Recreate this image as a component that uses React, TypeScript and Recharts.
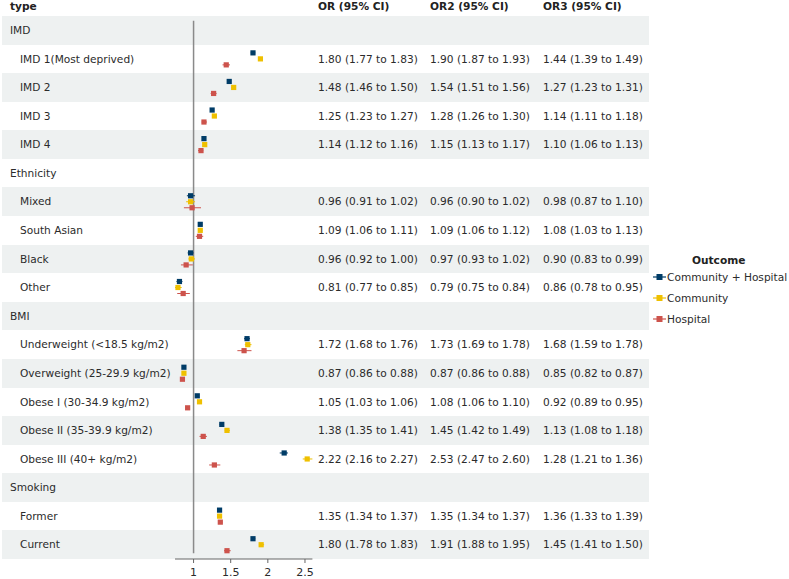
import React from 'react';
import { ErrorBar, ReferenceLine, Scatter, ScatterChart, XAxis, YAxis } from 'recharts';

const labels = [
  'IMD',
  'IMD 1(Most deprived)',
  'IMD 2',
  'IMD 3',
  'IMD 4',
  'Ethnicity',
  'Mixed',
  'South Asian',
  'Black',
  'Other',
  'BMI',
  'Underweight (<18.5 kg/m2)',
  'Overweight (25-29.9 kg/m2)',
  'Obese I (30-34.9 kg/m2)',
  'Obese II (35-39.9 kg/m2)',
  'Obese III (40+ kg/m2)',
  'Smoking',
  'Former',
  'Current',
];

// OR = Community + Hospital, OR2 = Community, OR3 = Hospital (null = group header row)
const or1 = [null, 1.8, 1.48, 1.25, 1.14, null, 0.96, 1.09, 0.96, 0.81, null, 1.72, 0.87, 1.05, 1.38, 2.22, null, 1.35, 1.8];
const or1Lo = [null, 1.77, 1.46, 1.23, 1.12, null, 0.91, 1.06, 0.92, 0.77, null, 1.68, 0.86, 1.03, 1.35, 2.16, null, 1.34, 1.78];
const or1Hi = [null, 1.83, 1.5, 1.27, 1.16, null, 1.02, 1.11, 1.0, 0.85, null, 1.76, 0.88, 1.06, 1.41, 2.27, null, 1.37, 1.83];

const or2 = [null, 1.9, 1.54, 1.28, 1.15, null, 0.96, 1.09, 0.97, 0.79, null, 1.73, 0.87, 1.08, 1.45, 2.53, null, 1.35, 1.91];
const or2Lo = [null, 1.87, 1.51, 1.26, 1.13, null, 0.9, 1.06, 0.93, 0.75, null, 1.69, 0.86, 1.06, 1.42, 2.47, null, 1.34, 1.88];
const or2Hi = [null, 1.93, 1.56, 1.3, 1.17, null, 1.02, 1.12, 1.02, 0.84, null, 1.78, 0.88, 1.1, 1.49, 2.6, null, 1.37, 1.95];

const or3 = [null, 1.44, 1.27, 1.14, 1.1, null, 0.98, 1.08, 0.9, 0.86, null, 1.68, 0.85, 0.92, 1.13, 1.28, null, 1.36, 1.45];
const or3Lo = [null, 1.39, 1.23, 1.11, 1.06, null, 0.87, 1.03, 0.83, 0.78, null, 1.59, 0.82, 0.89, 1.08, 1.21, null, 1.33, 1.41];
const or3Hi = [null, 1.49, 1.31, 1.18, 1.13, null, 1.1, 1.13, 0.99, 0.95, null, 1.78, 0.87, 0.95, 1.18, 1.36, null, 1.39, 1.5];

const columnTitles = ['OR (95% CI)', 'OR2 (95% CI)', 'OR3 (95% CI)'];
const seriesNames = ['Community + Hospital', 'Community', 'Hospital'];
const xTicks = [1, 1.5, 2, 2.5];

const series = [
  { name: seriesNames[0], v: or1, lo: or1Lo, hi: or1Hi, color: '#003C67' },
  { name: seriesNames[1], v: or2, lo: or2Lo, hi: or2Hi, color: '#EFC000' },
  { name: seriesNames[2], v: or3, lo: or3Lo, hi: or3Hi, color: '#CD534C' },
];

const FONT = '"DejaVu Sans", sans-serif';
const W = 789;
const H = 579;
const TOP = 16;
const BOTTOM = 559;
const PLOT_LEFT = 175;
const PLOT_RIGHT = 312.4;
const ROW_H = (BOTTOM - TOP) / labels.length;
const colX = [318, 430, 543];
const bandColor = '#eef1f1';
const textColor = '#2b2b2b';

const fmt = (s, i) => `${s.v[i].toFixed(2)} (${s.lo[i].toFixed(2)} to ${s.hi[i].toFixed(2)})`;

// one scatter data set per outcome, nudged up/down inside the row
const scatterData = series.map((s, k) =>
  s.v
    .map((v, i) =>
      v == null
        ? null
        : { x: v, y: i + 0.5 + ((k - 1) * 6) / ROW_H, err: [v - s.lo[i], s.hi[i] - v] }
    )
    .filter(Boolean)
);

const rowTicks = labels.map((_, i) => i + 0.5);

const RowTick = (props) => {
  const { y, payload } = props;
  const i = Math.floor(payload.value);
  const group = or1[i] == null;
  return (
    <g>
      <text x={group ? 10 : 20} y={y} dy="0.35em" fontSize={10.6} fill={textColor} fontFamily={FONT}>
        {labels[i]}
      </text>
      {!group &&
        series.map((s, k) => (
          <text key={k} x={colX[k]} y={y} dy="0.35em" fontSize={10.6} fill={textColor} fontFamily={FONT}>
            {fmt(s, i)}
          </text>
        ))}
    </g>
  );
};

const square = (color) => (props) => {
  const { cx, cy } = props;
  return <rect x={cx - 2.6} y={cy - 2.6} width={5.2} height={5.2} fill={color} />;
};

const App = () => {
  return (
    <div style={{ position: 'absolute', left: 0, top: 0, width: W, height: H, fontFamily: FONT, background: '#fff' }}>
      {/* row bands */}
      {labels.map((_, i) => (
        <div
          key={i}
          style={{
            position: 'absolute',
            left: 2,
            width: 647,
            top: TOP + i * ROW_H,
            height: ROW_H,
            background: i % 2 === 0 ? bandColor : '#fff',
          }}
        />
      ))}
      {/* header */}
      <div style={{ position: 'absolute', left: 10, top: 0, fontSize: 10.6, fontWeight: 'bold', color: '#222', lineHeight: '13px' }}>
        type
      </div>
      {columnTitles.map((t, k) => (
        <div
          key={t}
          style={{ position: 'absolute', left: colX[k], top: 0, fontSize: 10.6, fontWeight: 'bold', color: '#222', lineHeight: '13px', whiteSpace: 'nowrap' }}
        >
          {t}
        </div>
      ))}

      <div style={{ position: 'absolute', left: 0, top: 0 }}>
        <ScatterChart width={W} height={H} margin={{ top: TOP, right: W - PLOT_RIGHT, bottom: 0, left: 0 }}>
          <XAxis
            type="number"
            dataKey="x"
            domain={[0.75, 2.6]}
            ticks={xTicks}
            allowDataOverflow
            height={H - BOTTOM}
            tickSize={4}
            tickMargin={5}
            stroke="#666"
            tick={{ fontSize: 11, fill: textColor, fontFamily: FONT }}
          />
          <YAxis
            type="number"
            dataKey="y"
            domain={[0, labels.length]}
            reversed
            ticks={rowTicks}
            interval={0}
            width={PLOT_LEFT}
            axisLine={false}
            tickLine={false}
            tick={RowTick}
          />
          <ReferenceLine
            segment={[
              { x: 1, y: 0.17 },
              { x: 1, y: labels.length - 0.2 },
            ]}
            stroke="#8a8a8a"
            strokeWidth={1.5}
          />
          {series.map((s, k) => (
            <Scatter
              key={s.name}
              name={s.name}
              data={scatterData[k]}
              fill={s.color}
              shape={square(s.color)}
              isAnimationActive={false}
            >
              <ErrorBar dataKey="err" direction="x" width={0} stroke={s.color} strokeWidth={1} />
            </Scatter>
          ))}
        </ScatterChart>
      </div>

      {/* legend */}
      <div style={{ position: 'absolute', left: 692, top: 254, fontSize: 10.6, fontWeight: 'bold', color: '#222' }}>Outcome</div>
      {series.map((s, k) => (
        <div
          key={s.name}
          style={{ position: 'absolute', left: 652, top: 270 + k * 20.8, height: 14, display: 'flex', alignItems: 'center' }}
        >
          <svg width={15} height={14}>
            <line x1={1} x2={14} y1={7} y2={7} stroke={s.color} strokeWidth={1.2} />
            <rect x={4.5} y={4} width={6} height={6} fill={s.color} />
          </svg>
          <span style={{ fontSize: 10.6, color: textColor, whiteSpace: 'nowrap' }}>{s.name}</span>
        </div>
      ))}
    </div>
  );
};

export default App;
